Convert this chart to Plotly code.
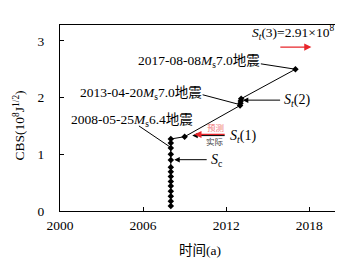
import plotly.graph_objects as go

# ---- data ----
time_a = [2008.0] * 14 + [2009.0, 2013.0, 2013.03, 2013.05, 2013.08, 2017.0]
cbs = [0.09, 0.17, 0.26, 0.35, 0.44, 0.52, 0.61, 0.69, 0.77, 0.90, 1.00, 1.11,
       1.20, 1.27, 1.31, 1.86, 1.90, 1.94, 1.98, 2.50]
x_ticks = [2000, 2006, 2012, 2018]
y_ticks = [0, 1, 2, 3]

FONT = "'Liberation Serif', 'Times New Roman', 'Noto Sans CJK SC', serif"

fig = go.Figure()
fig.add_trace(go.Scatter(
    x=time_a, y=cbs, mode="lines+markers",
    line=dict(color="black", width=1),
    marker=dict(symbol="diamond", size=5, color="black"),
    showlegend=False, hoverinfo="skip"))

ann = []
shapes = []

def txt(x, y, s, size=13.5, color="black", xanchor="center", xref="x", yref="y", **kw):
    ann.append(dict(x=x, y=y, xref=xref, yref=yref, text=s, showarrow=False,
                    xanchor=xanchor, yanchor="middle",
                    font=dict(family=FONT, size=size, color=color), **kw))

def arrow(x0, y0, x1, y1, color="black", width=1):
    ann.append(dict(x=x1, y=y1, ax=x0, ay=y0, xref="x", yref="y", axref="x", ayref="y",
                    text="", showarrow=True, arrowhead=2, arrowsize=1.1,
                    arrowwidth=width, arrowcolor=color, standoff=0, startstandoff=0))

def leader(x0, y0, x1, y1):
    shapes.append(dict(type="line", xref="x", yref="y", x0=x0, y0=y0, x1=x1, y1=y1,
                       line=dict(color="black", width=1)))

# event labels
txt(2010.0, 2.63, "2017-08-08<i>M</i><sub>s</sub>7.0地震")
leader(2014.5, 2.595, 2017.0, 2.50)
txt(2005.85, 2.08, "2013-04-20<i>M</i><sub>s</sub>7.0地震")
leader(2010.3, 2.05, 2013.0, 1.875)
txt(2005.2, 1.59, "2008-05-25<i>M</i><sub>s</sub>6.4地震")
leader(2005.7, 1.50, 2008.0, 1.12)

# S_t(3)
txt(2019.95, 3.14, "<i>S</i><sub><i>t</i></sub>(3)=2.91×10<sup>8</sup>", size=13.5, xanchor="right")
arrow(2015.8, 2.89, 2018.15, 2.89, color="#e8262b", width=1.3)

# S_t(2)
txt(2016.0, 1.955, "<i>S</i><sub><i>t</i></sub>(2)", size=14, xanchor="left")
arrow(2016.0, 1.955, 2013.2, 1.955)

# S_t(1)
txt(2012.1, 1.32, "<i>S</i><sub><i>t</i></sub>(1)", size=14, xanchor="left")
arrow(2012.0, 1.33, 2009.55, 1.33)
arrow(2012.0, 1.35, 2009.7, 1.35, color="#e8262b", width=1.3)
txt(2011.2, 1.47, "预测", size=8.5, color="#f07a7a")
txt(2011.2, 1.215, "实际", size=8.5, color="#444444")

# S_c
txt(2010.75, 0.89, "<i>S</i><sub>c</sub>", size=14, xanchor="left")
arrow(2010.7, 0.905, 2008.25, 0.905)

# axis titles
txt(-0.148, 0.46, "CBS(10<sup>8</sup>J<sup>1/2</sup>)", size=13.5, xref="paper", yref="paper", textangle=-90)
txt(0.505, -0.21, "时间(a)", size=13.5, xref="paper", yref="paper")

axis_common = dict(showline=True, linecolor="black", linewidth=1.3, mirror=True,
                   ticks="inside", ticklen=4, tickcolor="black", tickwidth=1,
                   showgrid=False, zeroline=False,
                   tickfont=dict(family=FONT, size=13.5, color="black"))

fig.update_layout(
    width=343, height=261,
    margin=dict(l=52, r=14, t=17, b=58),
    paper_bgcolor="white", plot_bgcolor="white",
    xaxis=dict(range=[2000, 2020], tickvals=x_ticks, ticktext=[str(v) for v in x_ticks],
               ticklabelstandoff=2, **axis_common),
    yaxis=dict(range=[0, 3.28], tickvals=y_ticks, ticktext=[str(v) for v in y_ticks],
               ticklabelstandoff=12, **axis_common),
    annotations=ann, shapes=shapes,
)

fig.write_html("out.html")
